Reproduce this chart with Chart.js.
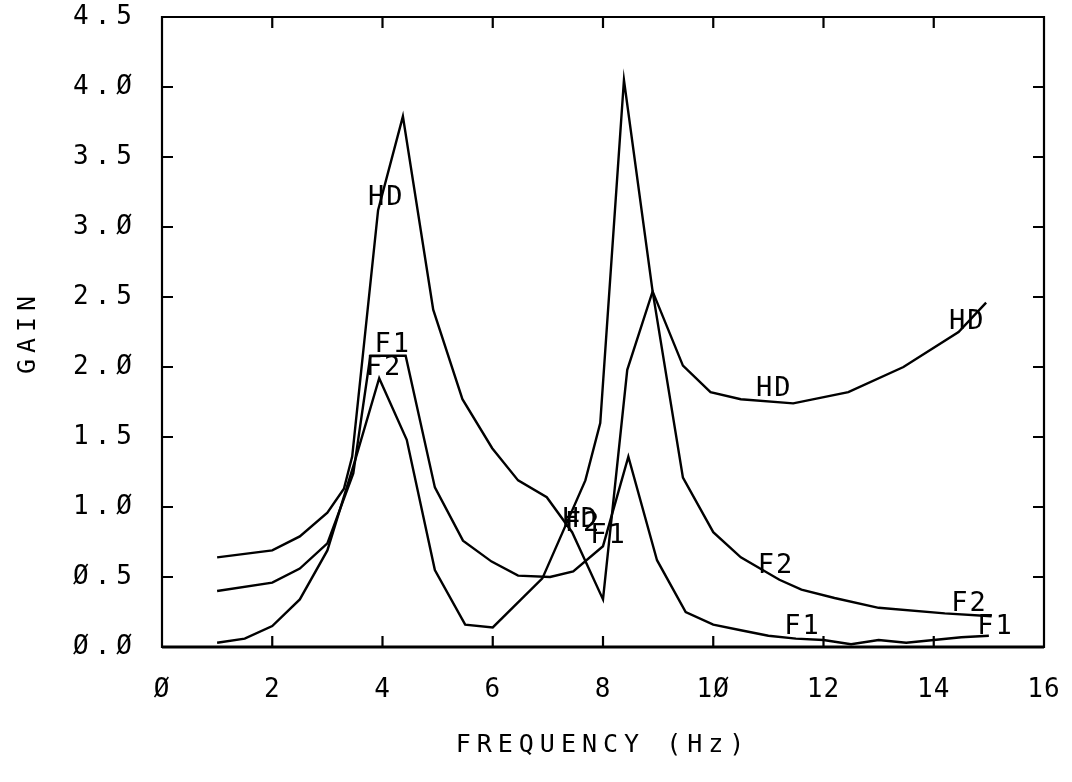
<!DOCTYPE html>
<html>
<head>
<meta charset="utf-8">
<script src="https://cdn.jsdelivr.net/npm/chart.js@4.4.1/dist/chart.umd.min.js"></script>
<style>
  html, body { margin: 0; padding: 0; background: #ffffff; }
  #wrap { width: 1072px; height: 782px; }
</style>
</head>
<body>
<div id="wrap"><canvas id="c" width="1072" height="782"></canvas></div>
<script>
// ---- data ----
const hdFreq = [1.0, 2.0, 2.5, 3.0, 3.3, 3.45, 3.92, 4.37, 4.92, 5.45, 5.99, 6.46, 6.98, 7.44, 8.0, 8.44, 8.9, 9.45, 9.95, 10.5, 11.45, 12.45, 13.45, 14.45, 14.95];
const hdGain = [0.64, 0.69, 0.79, 0.96, 1.13, 1.36, 3.12, 3.79, 2.41, 1.77, 1.42, 1.19, 1.07, 0.82, 0.34, 1.98, 2.54, 2.01, 1.82, 1.77, 1.74, 1.82, 2.0, 2.25, 2.46];

const f1Freq = [1.0, 2.0, 2.5, 3.0, 3.47, 3.78, 4.42, 4.95, 5.46, 5.98, 6.46, 7.04, 7.46, 8.0, 8.46, 8.98, 9.5, 10.0, 10.5, 11.0, 11.5, 12.0, 12.5, 13.0, 13.5, 14.0, 14.5, 15.0];
const f1Gain = [0.40, 0.46, 0.56, 0.74, 1.24, 2.08, 2.08, 1.14, 0.76, 0.61, 0.51, 0.50, 0.54, 0.72, 1.36, 0.62, 0.25, 0.16, 0.12, 0.08, 0.06, 0.05, 0.02, 0.05, 0.03, 0.05, 0.07, 0.08];

const f2Freq = [1.0, 1.5, 2.0, 2.5, 3.0, 3.5, 3.94, 4.44, 4.95, 5.5, 6.0, 6.9, 7.68, 7.95, 8.38, 8.9, 9.45, 10.0, 10.5, 11.2, 11.6, 12.2, 13.0, 14.2, 15.05];
const f2Gain = [0.03, 0.06, 0.15, 0.34, 0.69, 1.33, 1.92, 1.48, 0.55, 0.16, 0.14, 0.49, 1.19, 1.60, 4.05, 2.54, 1.21, 0.82, 0.64, 0.48, 0.41, 0.35, 0.28, 0.24, 0.22];

const xTickValues = [0, 2, 4, 6, 8, 10, 12, 14, 16];
const yTickValues = [0, 0.5, 1, 1.5, 2, 2.5, 3, 3.5, 4, 4.5];

const curveLabelText = ['HD', 'F1', 'F2', 'F2', 'HD', 'F1', 'HD', 'F2', 'F1', 'HD', 'F2', 'F1'];
const curveLabelFreq = [4.05, 4.17, 4.01, 7.62, 7.58, 8.08, 11.09, 11.12, 11.6, 14.59, 14.63, 15.1];
const curveLabelGain = [3.21, 2.16, 1.99, 0.88, 0.91, 0.79, 1.84, 0.58, 0.14, 2.32, 0.31, 0.14];

// ---- helpers ----
const toPts = (xs, ys) => xs.map((x, i) => ({ x: x, y: ys[i] }));
const slashZero = s => s.replace(/0/g, '\u00D8');
const FONT = 'DejaVu Sans Mono';

function withSpacing(scale, spacing) {
  if (scale._spacingWrapped) return;
  const orig = scale.drawLabels;
  scale.drawLabels = function (ca) {
    const c = this.ctx;
    const prev = c.letterSpacing;
    c.letterSpacing = spacing;
    orig.call(this, ca);
    c.letterSpacing = prev;
  };
  scale._spacingWrapped = true;
}

const framePlugin = {
  id: 'frame',
  beforeDraw(chart) {
    chart.ctx.letterSpacing = '6px';
  },
  afterDatasetsDraw(chart) {
    const { ctx, chartArea: a, scales: { x, y } } = chart;
    ctx.save();
    ctx.strokeStyle = '#000';
    ctx.lineWidth = 2.2;
    ctx.beginPath();
    ctx.rect(a.left, a.top, a.right - a.left, a.bottom - a.top);
    const L = 11;
    x.ticks.forEach(t => {
      const px = x.getPixelForValue(t.value);
      ctx.moveTo(px, a.bottom); ctx.lineTo(px, a.bottom - L);
      ctx.moveTo(px, a.top); ctx.lineTo(px, a.top + L);
    });
    y.ticks.forEach(t => {
      const py = y.getPixelForValue(t.value);
      ctx.moveTo(a.left, py); ctx.lineTo(a.left + L, py);
      ctx.moveTo(a.right, py); ctx.lineTo(a.right - L, py);
    });
    ctx.stroke();
    // thicker bottom axis, as in the plotter original
    ctx.beginPath();
    ctx.lineWidth = 3;
    ctx.moveTo(a.left, a.bottom); ctx.lineTo(a.right, a.bottom);
    ctx.stroke();
    // curve labels
    ctx.letterSpacing = '2px';
    ctx.fillStyle = '#000';
    ctx.font = '27px "' + FONT + '"';
    ctx.textAlign = 'center';
    ctx.textBaseline = 'middle';
    curveLabelText.forEach((txt, i) => {
      ctx.fillText(txt, x.getPixelForValue(curveLabelFreq[i]) + 1, y.getPixelForValue(curveLabelGain[i]));
    });
    ctx.restore();
  }
};

const lineStyle = { borderColor: '#000', borderWidth: 2.4, pointRadius: 0, tension: 0, fill: false };

new Chart(document.getElementById('c'), {
  type: 'line',
  data: {
    datasets: [
      Object.assign({ label: 'HD', data: toPts(hdFreq, hdGain) }, lineStyle),
      Object.assign({ label: 'F1', data: toPts(f1Freq, f1Gain) }, lineStyle),
      Object.assign({ label: 'F2', data: toPts(f2Freq, f2Gain) }, lineStyle)
    ]
  },
  options: {
    responsive: false,
    animation: false,
    layout: { padding: { top: 17, right: 28, left: 0, bottom: 0 } },
    plugins: { legend: { display: false }, tooltip: { enabled: false } },
    scales: {
      x: {
        type: 'linear', min: 0, max: 16,
        afterBuildTicks: s => { s.ticks = xTickValues.map(v => ({ value: v })); },
        afterFit: s => { s.height = 135; s.paddingLeft = 0; s.paddingRight = 0; withSpacing(s, '1px'); },
        grid: { display: false },
        border: { display: false },
        ticks: {
          color: '#000', padding: 20, maxRotation: 0, autoSkip: false,
          font: { family: FONT, size: 26 },
          callback: v => slashZero(String(v))
        },
        title: {
          display: true, text: 'FREQUENCY (Hz)', color: '#000',
          font: { family: FONT, size: 25 },
          padding: { top: 0, bottom: 22 }
        }
      },
      y: {
        type: 'linear', min: 0, max: 4.5,
        afterBuildTicks: s => { s.ticks = yTickValues.map(v => ({ value: v })); },
        afterFit: s => { s.width = 162; s.paddingTop = 0; s.paddingBottom = 0; },
        grid: { display: false },
        border: { display: false },
        ticks: {
          color: '#000', padding: 16, autoSkip: false,
          font: { family: FONT, size: 26 },
          callback: v => slashZero(Number(v).toFixed(1))
        },
        title: {
          display: true, text: 'GAIN', color: '#000',
          font: { family: FONT, size: 25 },
          padding: { top: 13, bottom: 0 }
        }
      }
    }
  },
  plugins: [framePlugin]
});
</script>
</body>
</html>
